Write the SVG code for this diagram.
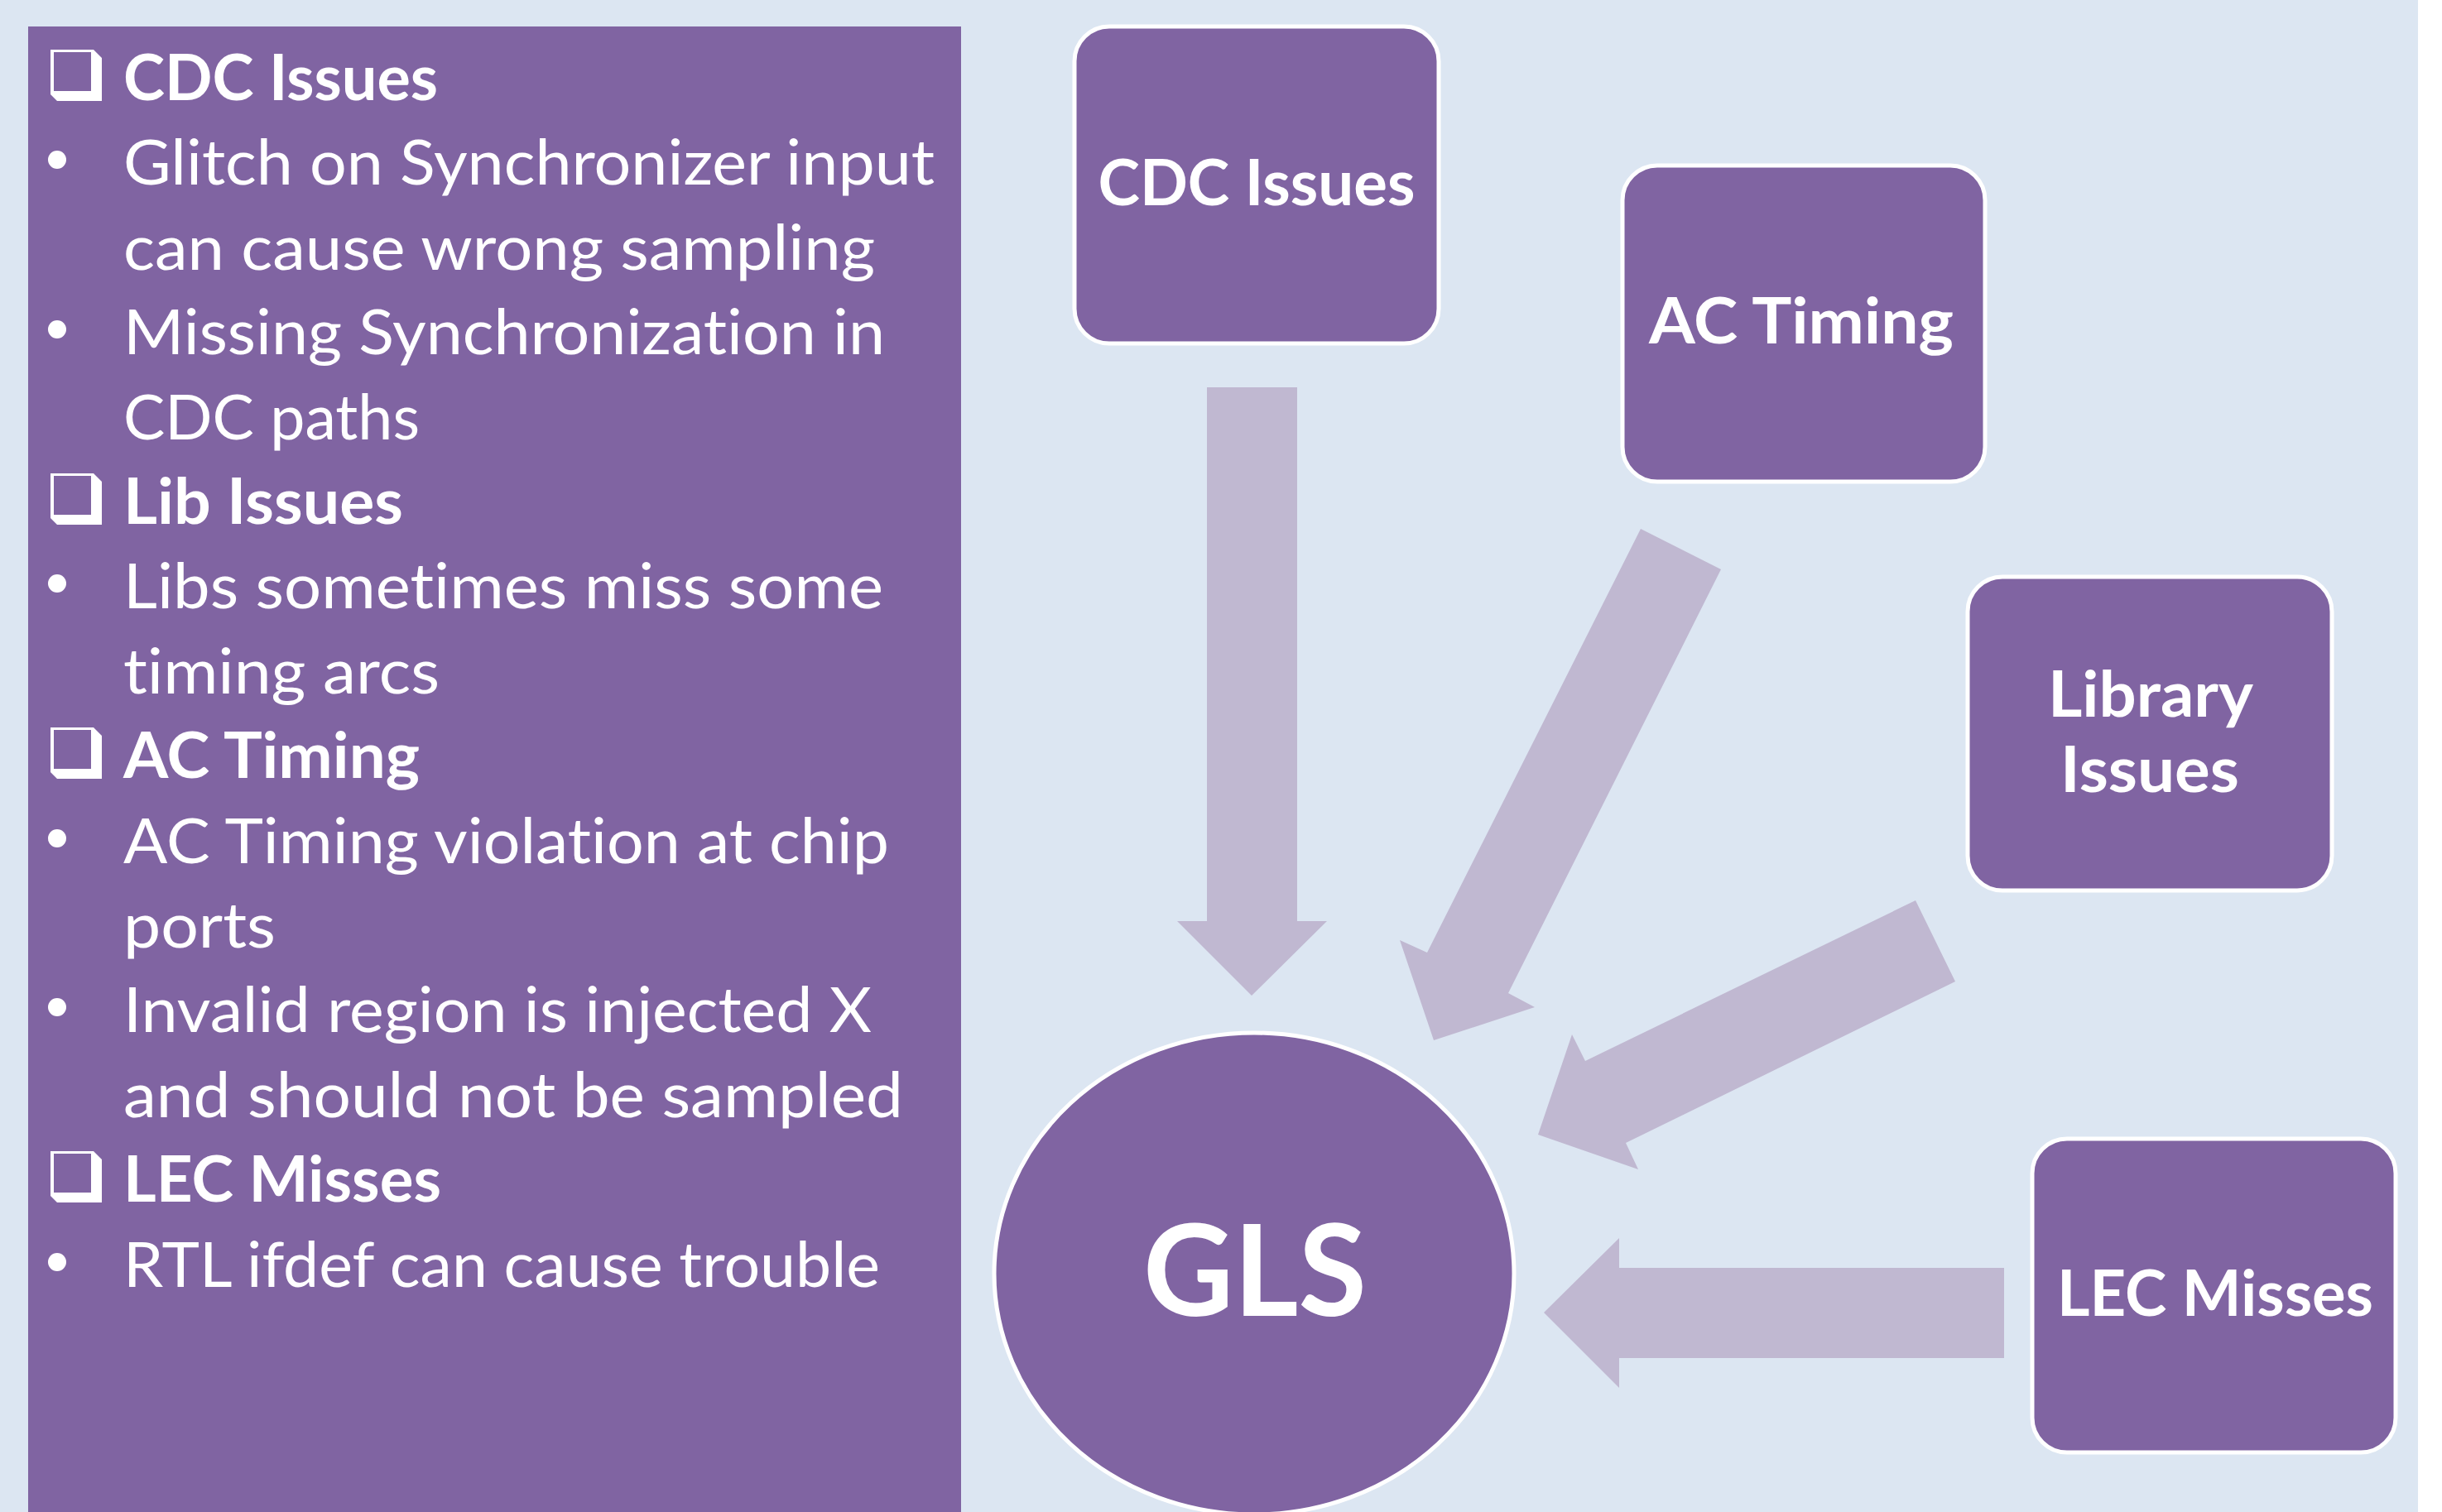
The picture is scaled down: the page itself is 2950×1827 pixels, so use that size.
<svg xmlns="http://www.w3.org/2000/svg" xmlns:xlink="http://www.w3.org/1999/xlink" width="2950" height="1827" viewBox="0 0 2950 1827">
  <style>
    text { font-variant-ligatures: none; font-feature-settings: "liga" 0, "dlig" 0; }
    .body { font-family: Lato, "Liberation Sans", sans-serif; font-size: 76px; fill: #FFFFFF; }
    .head { font-family: Lato, "Liberation Sans", sans-serif; font-size: 76px; font-weight: bold; fill: #FFFFFF; }
    .lbl { font-family: Lato, "Liberation Sans", sans-serif; font-size: 76px; font-weight: bold; fill: #FFFFFF; text-anchor: middle; }
    .big { font-family: Lato, "Liberation Sans", sans-serif; font-size: 153px; font-weight: bold; fill: #FFFFFF; text-anchor: middle; }
    .node { fill: #8064A2; stroke: #FFFFFF; stroke-width: 5; }
    .arrow { fill: #C0B8D1; }
    .dot { fill: #FFFFFF; }
  </style>
  <defs>
    <path id="chk" fill="#FFFFFF" fill-rule="evenodd" d="M0,0 L52,0 L62,10 L62,62 L8,62 L0,54 Z M4,3 L4,50 L49,50 L49,3 Z"/>
  </defs>

  <rect x="0" y="0" width="2950" height="1827" fill="#FFFFFF"/>
  <rect x="0" y="0" width="2921" height="1827" fill="#DCE6F2"/>

  <g id="notes">
    <rect x="34" y="32" width="1127" height="1800" fill="#8064A2"/>
    <use xlink:href="#chk" x="61" y="60"/>
    <text class="head" x="149" y="121" textLength="380" lengthAdjust="spacingAndGlyphs">CDC Issues</text>
    <circle class="dot" cx="69" cy="193" r="11"/>
    <text class="body" x="149" y="223" textLength="980" lengthAdjust="spacingAndGlyphs">Glitch on Synchronizer input</text>
    <text class="body" x="149" y="326" textLength="908" lengthAdjust="spacingAndGlyphs">can cause wrong sampling</text>
    <circle class="dot" cx="69" cy="398" r="11"/>
    <text class="body" x="149" y="428" textLength="920" lengthAdjust="spacingAndGlyphs">Missing Synchronization in</text>
    <text class="body" x="149" y="531" textLength="358" lengthAdjust="spacingAndGlyphs">CDC paths</text>
    <use xlink:href="#chk" x="61" y="572"/>
    <text class="head" x="149" y="633" textLength="338" lengthAdjust="spacingAndGlyphs">Lib Issues</text>
    <circle class="dot" cx="69" cy="705" r="11"/>
    <text class="body" x="149" y="735" textLength="918" lengthAdjust="spacingAndGlyphs">Libs sometimes miss some</text>
    <text class="body" x="149" y="838" textLength="382" lengthAdjust="spacingAndGlyphs">timing arcs</text>
    <use xlink:href="#chk" x="61" y="879"/>
    <text class="head" x="149" y="940" textLength="358" lengthAdjust="spacingAndGlyphs">AC Timing</text>
    <circle class="dot" cx="69" cy="1013" r="11"/>
    <text class="body" x="149" y="1043" textLength="925" lengthAdjust="spacingAndGlyphs">AC Timing violation at chip</text>
    <text class="body" x="149" y="1145" textLength="184" lengthAdjust="spacingAndGlyphs">ports</text>
    <circle class="dot" cx="69" cy="1217" r="11"/>
    <text class="body" x="149" y="1247" textLength="904" lengthAdjust="spacingAndGlyphs">Invalid region is injected X</text>
    <text class="body" x="149" y="1350" textLength="942" lengthAdjust="spacingAndGlyphs">and should not be sampled</text>
    <use xlink:href="#chk" x="61" y="1391"/>
    <text class="head" x="149" y="1452" textLength="384" lengthAdjust="spacingAndGlyphs">LEC Misses</text>
    <circle class="dot" cx="69" cy="1525" r="11"/>
    <text class="body" x="149" y="1555" textLength="914" lengthAdjust="spacingAndGlyphs">RTL ifdef can cause trouble</text>
  </g>

  <g id="connectors">
    <polygon class="arrow" points="1458,468 1567,468 1567,1113 1603,1113 1512,1203 1422,1113 1458,1113"/>
    <polygon class="arrow" points="1982,639 2079,688 1822,1200 1854,1217 1732,1257 1691,1136 1724,1151"/>
    <polygon class="arrow" points="2314,1088 2362,1186 1964,1381 1979,1413 1858,1371 1899,1250 1915,1282"/>
    <polygon class="arrow" points="2421,1532 1956,1532 1956,1496 1865,1586 1956,1677 1956,1641 2421,1641"/>
  </g>

  <g id="node-cdc">
    <rect class="node" x="1298" y="32" width="440" height="383" rx="42" ry="42"/>
    <text class="lbl" x="1518" y="248" textLength="383" lengthAdjust="spacingAndGlyphs">CDC Issues</text>
  </g>
  <g id="node-ac">
    <rect class="node" x="1960" y="200" width="438" height="382" rx="42" ry="42"/>
    <text class="lbl" x="2176" y="415" textLength="368" lengthAdjust="spacingAndGlyphs">AC Timing</text>
  </g>
  <g id="node-lib">
    <rect class="node" x="2377" y="697" width="440" height="379" rx="42" ry="42"/>
    <text class="lbl" x="2598" y="866" textLength="248" lengthAdjust="spacingAndGlyphs">Library</text>
    <text class="lbl" x="2597" y="957" textLength="216" lengthAdjust="spacingAndGlyphs">Issues</text>
  </g>
  <g id="node-lec">
    <rect class="node" x="2455" y="1376" width="439" height="379" rx="42" ry="42"/>
    <text class="lbl" x="2676" y="1590" textLength="382" lengthAdjust="spacingAndGlyphs">LEC Misses</text>
  </g>
  <g id="node-gls">
    <ellipse class="node" cx="1515" cy="1539" rx="314" ry="291"/>
    <text class="big" x="1516" y="1590" textLength="270" lengthAdjust="spacingAndGlyphs">GLS</text>
  </g>
</svg>
